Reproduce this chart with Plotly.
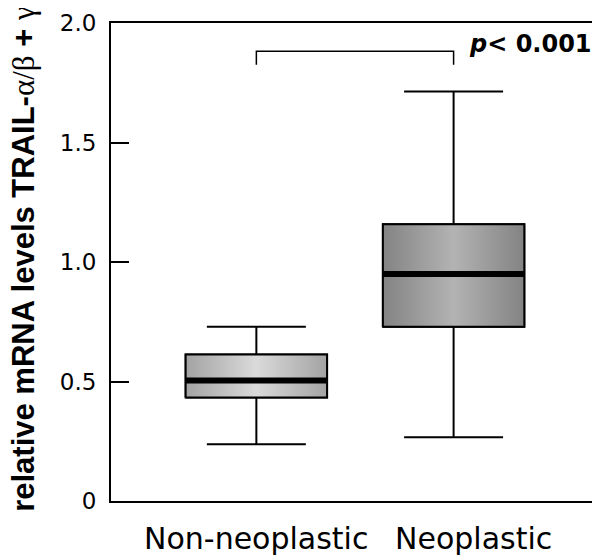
import plotly.graph_objects as go

# ---- data ----
categories = ["Non-neoplastic", "Neoplastic"]
positions = [0, 1]
lower_whisker = [0.237, 0.267]
q1 = [0.433, 0.729]
median = [0.504, 0.950]
q3 = [0.613, 1.158]
upper_whisker = [0.729, 1.713]
y_tickvals = [0, 0.5, 1.0, 1.5, 2.0]
y_ticktext = ["0", "0.5", "1.0", "1.5", "2.0"]
p_text = "<i>p</i>< 0.001"
bracket_top = 1.882
bracket_drop = 1.825

# ---- styles ----
box_width = 0.717
gradients = [
    [[0, "#a3a3a3"], [0.5, "#dadada"], [1, "#a3a3a3"]],
    [[0, "#838383"], [0.5, "#b3b3b3"], [1, "#838383"]],
]

fig = go.Figure()

fig.add_trace(go.Box(
    x=positions, q1=q1, median=median, q3=q3,
    lowerfence=lower_whisker, upperfence=upper_whisker,
    width=box_width, whiskerwidth=0.7,
    line=dict(color="black", width=2),
    fillcolor="rgba(0,0,0,0)", boxpoints=False, showlegend=False,
    hoverinfo="skip",
))

half = box_width / 2
for i, pos in enumerate(positions):
    xs = [pos - half, pos + half, pos + half, pos - half, pos - half]
    ys = [q1[i], q1[i], q3[i], q3[i], q1[i]]
    fig.add_trace(go.Scatter(
        x=xs, y=ys, mode="lines", fill="toself",
        fillgradient=dict(type="horizontal", colorscale=gradients[i]),
        line=dict(color="black", width=2), showlegend=False, hoverinfo="skip",
    ))
    fig.add_trace(go.Scatter(
        x=[pos - half, pos + half], y=[median[i], median[i]], mode="lines",
        line=dict(color="black", width=6), showlegend=False, hoverinfo="skip",
    ))

fig.add_trace(go.Scatter(
    x=[positions[0], positions[0], positions[1], positions[1]],
    y=[bracket_drop, bracket_top, bracket_top, bracket_drop],
    mode="lines", line=dict(color="black", width=1.5),
    showlegend=False, hoverinfo="skip",
))

fig.add_annotation(
    x=positions[1], y=bracket_top + 0.03, xref="x", yref="y",
    text="<b>" + p_text + "</b>", showarrow=False, xanchor="left", yanchor="middle",
    xshift=13, font=dict(family="DejaVu Sans", size=24, color="black"),
)

label_shift = [0, 20]
for i, pos in enumerate(positions):
    fig.add_annotation(
        x=pos, y=0, xref="x", yref="paper", text=categories[i], showarrow=False,
        xanchor="center", yanchor="top", yshift=-18, xshift=label_shift[i],
        font=dict(family="DejaVu Sans", size=30, color="black"),
    )

fig.add_annotation(
    x=-0.181, y=0.505, xref="paper", yref="paper", textangle=-90,
    text="<b>relative mRNA levels TRAIL-</b><span style='font-family:Liberation Serif'>α/β</span><b> + </b><span style='font-family:Liberation Serif'>γ</span>",
    showarrow=False, xanchor="center", yanchor="middle",
    font=dict(family="Liberation Sans", size=31, color="black"),
)

fig.update_layout(
    width=592, height=548,
    margin=dict(l=103, r=2, t=12, b=55),
    paper_bgcolor="white", plot_bgcolor="white",
    showlegend=False,
)
fig.update_xaxes(
    range=[-0.737, 1.722], showgrid=False, zeroline=False,
    showline=True, linecolor="black", linewidth=2, mirror=True,
    showticklabels=False, ticks="",
)
fig.update_yaxes(
    range=[0, 2.0], tickvals=y_tickvals, ticktext=y_ticktext,
    showgrid=False, zeroline=False,
    showline=True, linecolor="black", linewidth=2, mirror=True,
    ticks="inside", ticklen=18, tickwidth=2, tickcolor="black",
    ticklabelstandoff=8, ticklabeloverflow="allow",
    tickfont=dict(family="DejaVu Sans", size=23, color="black"),
)

fig.write_html("out.html")
